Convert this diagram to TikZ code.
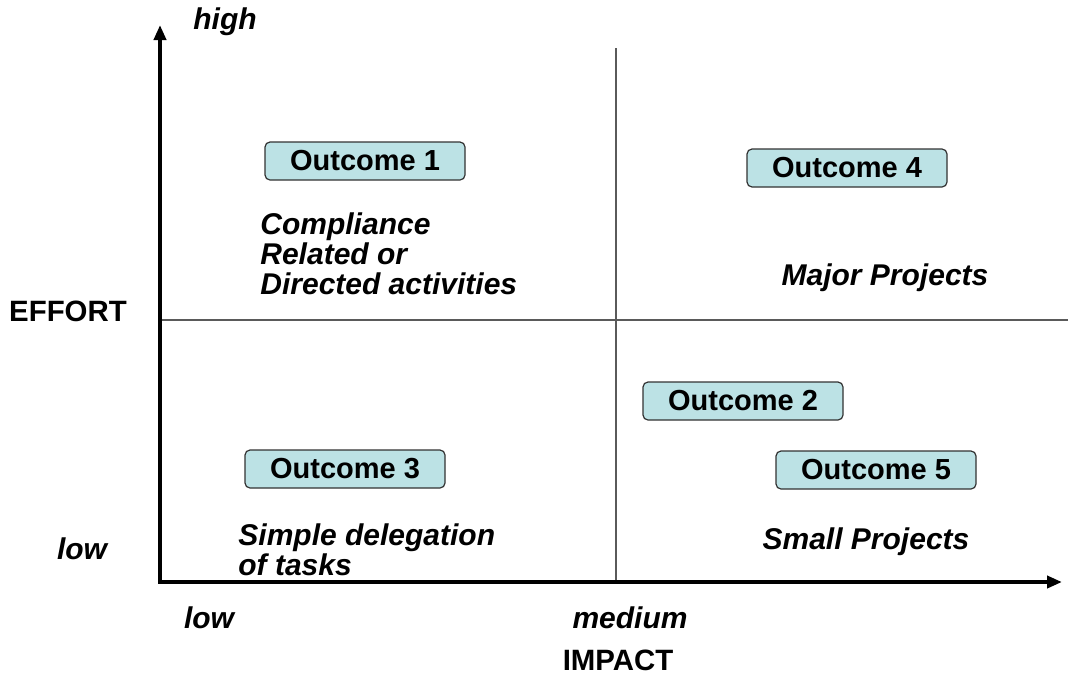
\documentclass[tikz,border=0pt]{standalone}
\usepackage{fontspec}
\setmainfont{Liberation Sans}
\usetikzlibrary{arrows.meta}

\definecolor{boxfill}{RGB}{188,226,229}
\definecolor{boxline}{RGB}{50,50,50}
\definecolor{gridline}{RGB}{90,90,90}

\tikzset{
  outcome/.style={draw=boxline, fill=boxfill, rounded corners=2.5pt, line width=0.6pt,
    minimum width=100pt, minimum height=19pt, inner sep=0pt,
    font=\bfseries\fontsize{14.5}{15}\selectfont},
  areatext/.style={font=\bfseries\itshape\fontsize{15}{15}\selectfont,
    inner sep=0pt, align=left},
  axisname/.style={font=\bfseries\fontsize{14.7}{15}\selectfont, inner sep=0pt},
}

\begin{document}
\begin{tikzpicture}[x=0.5pt, y=-0.5pt]

  \useasboundingbox (0,0) rectangle (1068,675);

  % corners of the chart
  \coordinate (O) at (160,582);
  \coordinate (Ytop) at (160,25);
  \coordinate (Xend) at (1062,582);
  \coordinate (Mtop) at (616,48);
  \coordinate (Mbot) at (616,582);
  \coordinate (Hl) at (160,320);
  \coordinate (Hr) at (1068,320);

  % quadrant dividers
  \draw[gridline, line width=0.8pt] (Mtop) -- (Mbot);
  \draw[gridline, line width=0.8pt] (Hl) -- (Hr);

  % effort and impact axes
  \draw[line width=2.2pt, line join=miter,
        {Triangle[length=7.5pt,width=6pt]}-{Triangle[length=7.5pt,width=6pt]}]
        (Ytop) -- (O) -- (Xend);

  % axis texts
  \node[areatext] (high) at (225,22) {high};
  \node[axisname] (effort) at (68,311) {EFFORT};
  \node[areatext] (lowY) at (82,549) {low};
  \node[areatext] (lowX) at (209,618) {low};
  \node[areatext] (medium) at (630,618) {medium};
  \node[axisname] (impact) at (618,660) {IMPACT};

  % outcomes
  \node[outcome] (out1) at (365,161) {Outcome 1};
  \node[outcome] (out4) at (847,168) {Outcome 4};
  \node[outcome] (out2) at (743,401) {Outcome 2};
  \node[outcome] (out3) at (345,469) {Outcome 3};
  \node[outcome] (out5) at (876,470) {Outcome 5};

  % quadrant descriptions
  \node[areatext, anchor=north west] (compliance) at (260,212)
       {Compliance\\Related or\\Directed activities};
  \node[areatext] (major) at (885,278) {Major Projects};
  \node[areatext, anchor=north west] (simple) at (238,523)
       {Simple delegation\\of tasks};
  \node[areatext] (small) at (866,542) {Small Projects};

\end{tikzpicture}
\end{document}
